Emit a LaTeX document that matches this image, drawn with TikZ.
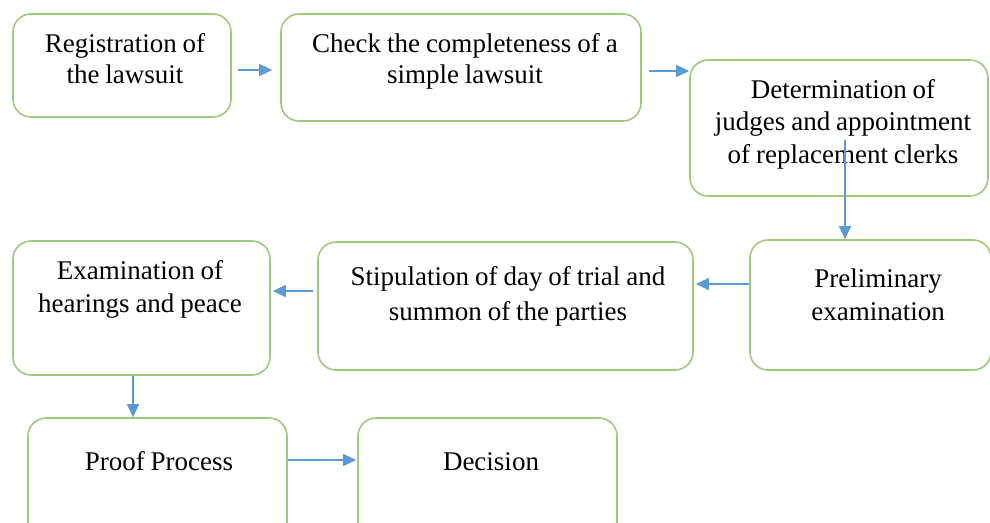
\documentclass[tikz,border=0pt]{standalone}
\usepackage{fontspec}
\setmainfont{Liberation Serif}
\usetikzlibrary{arrows.meta}
\definecolor{boxgreen}{RGB}{158,202,124}
\definecolor{arrblue}{RGB}{91,155,213}
\newcommand{\tsp}{\spaceskip=0.22em\relax\xspaceskip=0.22em\relax}
\tikzset{
  procbox/.style={draw=boxgreen, line width=1.6pt, rounded corners=18pt, inner sep=0pt},
  lbl/.style={anchor=base, align=center, inner sep=0pt, font=\fontsize{27}{32}\selectfont},
  arr/.style={draw=arrblue, line width=1.3pt, -{Triangle[length=13pt,width=12pt]}}
}
\begin{document}
\begin{tikzpicture}[x=1pt,y=-1pt]
\useasboundingbox (0,0) rectangle (990,522);
\clip (0,0) rectangle (990,522);
% boxes
\node[procbox, minimum width=218pt, minimum height=103pt] (reg) at (122,65.5) {};
\node[procbox, minimum width=360pt, minimum height=107pt] (chk) at (461,67.5) {};
\node[procbox, minimum width=298pt, minimum height=136pt] (det) at (839,128) {};
\node[procbox, minimum width=241pt, minimum height=130pt] (pre) at (870.5,305) {};
\node[procbox, minimum width=375pt, minimum height=128pt] (stip) at (505.5,306) {};
\node[procbox, minimum width=257pt, minimum height=134pt] (exam) at (141.5,308) {};
\node[procbox, minimum width=259pt, minimum height=140pt] (proof) at (157.5,488) {};
\node[procbox, minimum width=259pt, minimum height=140pt] (dec) at (487.5,488) {};
% texts
\node[lbl, text width=218pt] (regt) at (125,52) {\tsp Registration of\\the lawsuit};
\node[lbl, text width=360pt] (chkt) at (465,52) {\tsp Check the completeness of a\\simple lawsuit};
\node[lbl, text width=298pt, font=\fontsize{27}{32.5}\selectfont] (dett) at (843,98) {\tsp Determination of\\judges and appointment\\of replacement clerks};
\node[lbl, text width=241pt, font=\fontsize{27}{33}\selectfont] (pret) at (878,287) {\tsp Preliminary\\examination};
\node[lbl, text width=375pt, font=\fontsize{27}{35}\selectfont] (stipt) at (508,285) {\tsp Stipulation of day of trial and\\summon of the parties};
\node[lbl, text width=257pt, font=\fontsize{27}{33}\selectfont] (examt) at (140,279) {\tsp Examination of\\hearings and peace};
\node[lbl, text width=259pt] (prooft) at (159,470) {\tsp Proof Process};
\node[lbl, text width=259pt] (dect) at (491,470) {\tsp Decision};
% connectors
\coordinate (detin) at (845,140);
\draw[arr, shorten <=6pt, shorten >=8pt] (reg.east |- 0,70) -- (chk.west |- 0,70);
\draw[arr, shorten <=7pt] (chk.east |- 0,71) -- (det.west |- 0,71);
\draw[arr] (detin) -- (detin |- pre.north);
\draw[arr, shorten >=2pt] (pre.west |- 0,284) -- (stip.east |- 0,284);
\draw[arr, shorten <=4pt, shorten >=2pt] (stip.west |- 0,291) -- (exam.east |- 0,291);
\draw[arr] (exam.south -| 133,0) -- (proof.north -| 133,0);
\draw[arr, shorten >=1pt] (proof.east |- 0,460) -- (dec.west |- 0,460);
\end{tikzpicture}
\end{document}
